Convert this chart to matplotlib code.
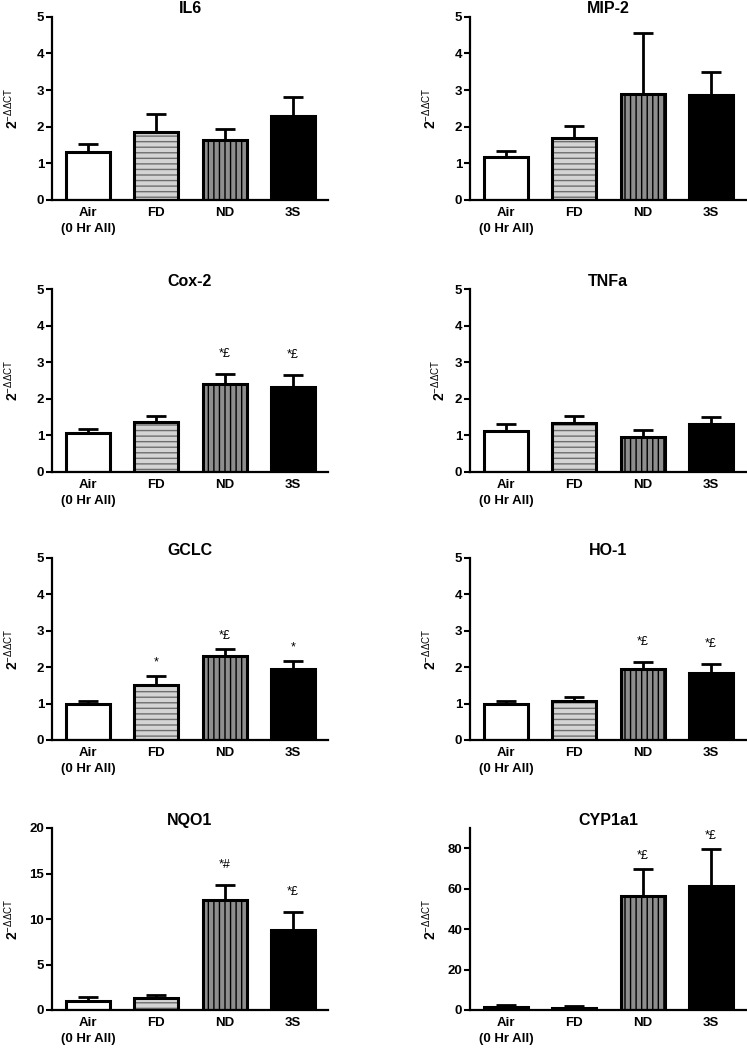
import matplotlib.pyplot as plt

plt.rcParams['font.family'] = ['Liberation Sans', 'DejaVu Sans']
plt.rcParams['mathtext.fontset'] = 'custom'
plt.rcParams['mathtext.rm'] = 'Liberation Sans'
plt.rcParams['mathtext.bf'] = 'Liberation Sans:bold'
plt.rcParams['mathtext.it'] = 'Liberation Sans:italic'
plt.rcParams['hatch.linewidth'] = 1.0

# group labels
groups = ['Air\n(0 Hr All)', 'FD', 'ND', '3S']

# mean and upper SEM
il6_mean = [1.32, 1.85, 1.64, 2.30]
il6_err = [0.21, 0.49, 0.30, 0.52]
il6_sig = ['', '', '', '']

mip2_mean = [1.17, 1.70, 2.89, 2.86]
mip2_err = [0.18, 0.33, 1.67, 0.63]
mip2_sig = ['', '', '', '']

cox2_mean = [1.06, 1.37, 2.40, 2.33]
cox2_err = [0.11, 0.16, 0.28, 0.33]
cox2_sig = ['', '', '*£', '*£']

tnfa_mean = [1.11, 1.35, 0.95, 1.30]
tnfa_err = [0.19, 0.19, 0.19, 0.21]
tnfa_sig = ['', '', '', '']

gclc_mean = [1.00, 1.50, 2.30, 1.94]
gclc_err = [0.07, 0.25, 0.19, 0.24]
gclc_sig = ['', '*', '*£', '*']

ho1_mean = [1.00, 1.08, 1.96, 1.84]
ho1_err = [0.07, 0.10, 0.17, 0.25]
ho1_sig = ['', '', '*£', '*£']

nqo1_mean = [1.03, 1.28, 12.11, 8.81]
nqo1_err = [0.36, 0.33, 1.65, 1.91]
nqo1_sig = ['', '', '*#', '*£']

cyp_mean = [1.5, 1.0, 56.5, 61.1]
cyp_err = [1.0, 1.0, 13.3, 18.7]
cyp_sig = ['', '', '*£', '*£']

panels = [
    ('IL6', il6_mean, il6_err, il6_sig, 5, [0, 1, 2, 3, 4, 5]),
    ('MIP-2', mip2_mean, mip2_err, mip2_sig, 5, [0, 1, 2, 3, 4, 5]),
    ('Cox-2', cox2_mean, cox2_err, cox2_sig, 5, [0, 1, 2, 3, 4, 5]),
    ('TNFa', tnfa_mean, tnfa_err, tnfa_sig, 5, [0, 1, 2, 3, 4, 5]),
    ('GCLC', gclc_mean, gclc_err, gclc_sig, 5, [0, 1, 2, 3, 4, 5]),
    ('HO-1', ho1_mean, ho1_err, ho1_sig, 5, [0, 1, 2, 3, 4, 5]),
    ('NQO1', nqo1_mean, nqo1_err, nqo1_sig, 20, [0, 5, 10, 15, 20]),
    ('CYP1a1', cyp_mean, cyp_err, cyp_sig, 90, [0, 20, 40, 60, 80]),
]

# bar styling: face, hatch, hatch colour
faces = ['white', '#d4d4d4', '#8e8e8e', 'black']
hatches = ['', '---', '|||', '']
hatch_cols = ['white', '#6e6e6e', 'black', 'black']

# layout in pixels (figure 747 x 1050)
W, H = 747, 1050
col_x = [52, 470]
row_y = [(16.7, 200), (289, 472), (558, 740), (828, 1010)]
ax_w = 276
sig_offset = {'Cox-2': 20, 'HO-1': 20, 'NQO1': 20, 'GCLC': 13.5, 'CYP1a1': 13}
ylab_x = {'TNFa': -0.112}

fig = plt.figure(figsize=(W / 100, H / 100), dpi=100)

for i, (name, mean, err, sig, ymax, ticks) in enumerate(panels):
    r, c = divmod(i, 2)
    top, bot = row_y[r]
    ax = fig.add_axes([col_x[c] / W, 1 - bot / H, ax_w / W, (bot - top) / H])
    x = list(range(len(groups)))

    ax.bar(x, mean, width=0.645, color=faces, hatch=hatches,
           edgecolor=hatch_cols, linewidth=0, zorder=2)
    ax.bar(x, mean, width=0.645, fill=False, edgecolor='black',
           linewidth=2.2, zorder=3)
    ax.errorbar(x, mean, yerr=[[0] * 4, err], fmt='none', ecolor='black',
                elinewidth=2, capsize=7.5, capthick=2, zorder=1)

    for xi, m, e, s in zip(x, mean, err, sig):
        if s:
            ax.annotate(s, (xi, m + e), xytext=(0, sig_offset[name] * 0.72),
                        textcoords='offset points', ha='center', va='center',
                        fontsize=9)

    ax.set_xlim(-0.527, 3.51)
    ax.set_ylim(0, ymax)
    ax.set_yticks(ticks)
    ax.set_xticks(x)
    ax.set_xticklabels(groups, fontsize=9.5, fontweight='bold', linespacing=1.45)
    for lab in ax.get_yticklabels():
        lab.set_fontweight('bold')
        lab.set_fontsize(9.5)
    ax.tick_params(axis='x', length=0, pad=5)
    ax.tick_params(axis='y', length=4, width=1.5, pad=1.5, direction='out')
    for sp in ['top', 'right']:
        ax.spines[sp].set_visible(False)
    for sp in ['left', 'bottom']:
        ax.spines[sp].set_linewidth(1.6)

    ax.set_title(name, fontsize=11.5, fontweight='bold', pad=2.5)
    ax.set_ylabel(r'$\mathbf{2}^{-\Delta\Delta\mathrm{CT}}$', fontsize=10)
    ax.yaxis.label.set_va('center')
    ax.yaxis.set_label_coords(ylab_x.get(name, -0.145), 0.5)

fig.savefig('out.png', dpi=100)
